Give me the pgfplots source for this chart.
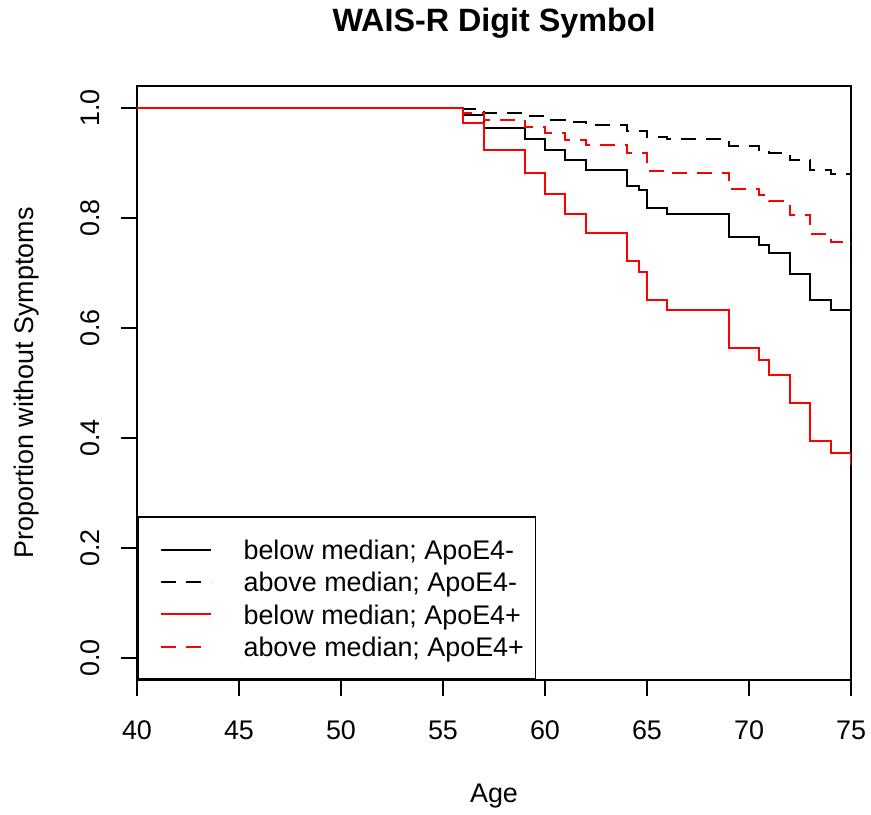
\documentclass[border=0pt]{standalone}
\usepackage{fontspec}
\setmainfont{Liberation Sans}
\usepackage{pgfplots}
\pgfplotsset{compat=1.18}
\newcommand{\basefont}{\fontsize{26.9bp}{32bp}\selectfont}
\begin{document}
\begin{tikzpicture}
\useasboundingbox (0,0) rectangle (871bp,815bp);
\begin{axis}[
  at={(137bp,135bp)}, anchor=south west,
  scale only axis, width=714bp, height=594bp,
  xmin=40, xmax=75, ymin=-0.04, ymax=1.04,
  xtick={40,45,...,75}, ytick={0,0.2,0.4,0.6,0.8,1},
  minor tick num=0,
  tick pos=left, tick align=outside, major tick length=16bp,
  axis line style={line width=1.7bp},
  every tick/.style={black, line width=1.7bp},
  /pgf/number format/assume math mode=true,
  tick label style={font=\basefont},
  xticklabel style={anchor=base, inner sep=0pt, yshift=-43.3bp},
  yticklabel style={/pgf/number format/.cd, fixed, fixed zerofill, precision=1, /tikz/.cd, xshift=-21bp, rotate=90, anchor=base, inner sep=0pt},
  every axis x label/.style={at={(axis description cs:0.5,0)}, yshift=-122.7bp, anchor=base, inner sep=0pt, font=\basefont},
  every axis y label/.style={at={(axis description cs:0,0.5)}, xshift=-103.7bp, rotate=90, anchor=base, inner sep=0pt, font=\basefont},
  every axis title/.style={at={(axis description cs:0.5,1)}, yshift=54.3bp, anchor=base, inner sep=0pt, font=\bfseries\fontsize{32.3bp}{38bp}\selectfont},
  title={WAIS-R Digit Symbol},
  xlabel={Age},
  ylabel={Proportion without Symptoms},
  legend style={at={(0,0)}, anchor=south west, draw=black, line width=1.7bp, fill=white,
    inner xsep=11.5bp, inner ysep=22.8bp, row sep=13bp, column sep=0bp, font=\basefont,
    nodes={inner sep=0pt, text height=19.3bp, text depth=0pt}},
  legend cell align=left,
  legend image code/.code={\path[draw=none] (0bp,0bp) -- (94.2bp,0bp); \draw[#1] (11.5bp,0bp) -- (61.5bp,0bp);},
]
\addplot[const plot, black, line width=2bp] coordinates {
(40,1) (56,0.987) (57,0.964) (59,0.943) (60,0.923) (61,0.905) (62,0.887) (64,0.859) (64.6,0.850) (65,0.819) (66,0.808) (69,0.766) (70.5,0.751) (71,0.736) (72,0.699) (73,0.651) (74,0.633) (75,0.615)};
\addlegendentry{below median; ApoE4-}
\addplot[const plot, black, line width=2bp, dash pattern=on 15bp off 10bp] coordinates {
(40,1) (56,0.998) (57,0.990) (59,0.985) (60,0.979) (61,0.975) (62,0.969) (64,0.959) (65,0.947) (66,0.943) (69,0.930) (70.5,0.924) (71,0.919) (72,0.905) (73,0.887) (74,0.880) (75,0.879)};
\addlegendentry{above median; ApoE4-}
\addplot[const plot, red, line width=2bp] coordinates {
(40,1) (56,0.973) (57,0.924) (59,0.882) (60,0.843) (61,0.807) (62,0.773) (64,0.721) (64.6,0.702) (65,0.651) (66,0.633) (69,0.563) (70.5,0.541) (71,0.515) (72,0.463) (73,0.394) (74,0.373) (75,0.351)};
\addlegendentry{below median; ApoE4+}
\addplot[const plot, red, line width=2bp, dash pattern=on 15bp off 10bp] coordinates {
(40,1) (56,0.991) (57,0.978) (59,0.966) (60,0.954) (61,0.942) (62,0.933) (64,0.919) (65,0.886) (66,0.881) (69,0.852) (70.5,0.842) (71,0.831) (72,0.805) (73,0.771) (74,0.757) (75,0.752)};
\addlegendentry{above median; ApoE4+}
\end{axis}
\end{tikzpicture}
\end{document}
